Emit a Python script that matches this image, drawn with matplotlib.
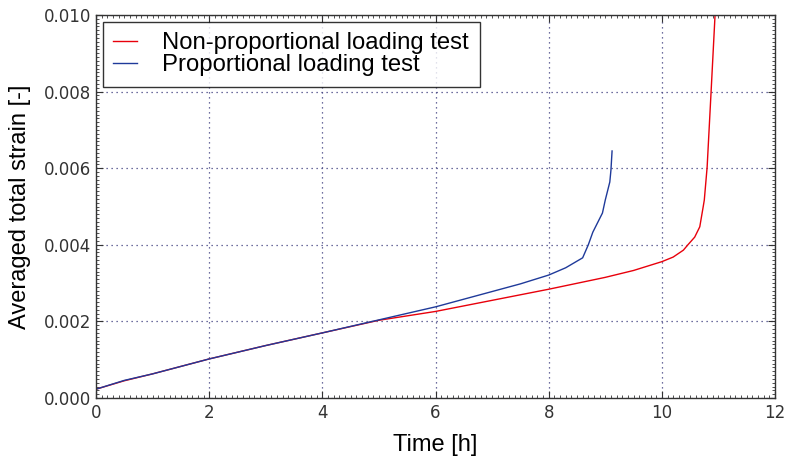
import matplotlib
matplotlib.use("Agg")
import matplotlib.pyplot as plt
from matplotlib.ticker import MultipleLocator, FormatStrFormatter

# Non-proportional loading test (red)
t_np = [0.0, 0.5, 1.0, 2.0, 3.0, 4.0, 5.0, 6.0, 7.0, 8.0, 9.0, 9.5, 10.0, 10.2, 10.38, 10.46, 10.58, 10.67, 10.73, 10.75, 10.80, 10.87, 10.94, 10.97]
e_np = [0.00023, 0.00045, 0.00063, 0.00102, 0.00137, 0.00170, 0.00203, 0.00226, 0.00255, 0.00284, 0.00315, 0.00333, 0.00356, 0.00368, 0.00386, 0.00400, 0.00420, 0.00447, 0.00499, 0.00517, 0.00603, 0.00800, 0.01000, 0.01100]

# Proportional loading test (blue)
t_p = [0.0, 0.5, 1.0, 2.0, 3.0, 4.0, 5.0, 6.0, 7.0, 7.5, 8.0, 8.3, 8.6, 8.7, 8.78, 8.95, 9.0, 9.08, 9.10, 9.12]
e_p = [0.00023, 0.00046, 0.00063, 0.00102, 0.00137, 0.00170, 0.00204, 0.00238, 0.00278, 0.00298, 0.00321, 0.00340, 0.00366, 0.00400, 0.00433, 0.00483, 0.00517, 0.00564, 0.00595, 0.00645]

x_ticks = [0, 2, 4, 6, 8, 10, 12]
y_ticks = [0.000, 0.002, 0.004, 0.006, 0.008, 0.010]

fig = plt.figure(figsize=(7.89, 4.59), dpi=100)
ax = fig.add_axes([0.1217, 0.1329, 0.8606, 0.8344])

ax.plot(t_np, e_np, color="#e8000b", lw=1.0, label="Non-proportional loading test")
ax.plot(t_p, e_p, color="#1f3a9a", lw=1.0, label="Proportional loading test")

ax.set_xlim(0, 12)
ax.set_ylim(0, 0.010)
ax.set_xticks(x_ticks)
ax.set_yticks(y_ticks)
ax.yaxis.set_major_formatter(FormatStrFormatter("%.3f"))
ax.xaxis.set_minor_locator(MultipleLocator(0.1))
ax.yaxis.set_minor_locator(MultipleLocator(0.0001))

ax.tick_params(which="both", direction="in", top=True, right=True, colors="#333333",
               labelsize=12)
ax.tick_params(which="major", length=5, width=0.8)
ax.tick_params(which="minor", length=2.5, width=0.6)
ax.tick_params(axis="x", pad=4)
for lab in ax.get_xticklabels() + ax.get_yticklabels():
    lab.set_color("#333333")
for s in ax.spines.values():
    s.set_color("#333333")
    s.set_linewidth(1.0)

ax.grid(True, which="major", color="#404080", linestyle=(0, (1, 3)), linewidth=0.9)

ax.set_xlabel("Time [h]", fontsize=17, family="Liberation Sans", labelpad=9)
ax.set_ylabel("Averaged total strain [-]", fontsize=17, family="Liberation Sans", labelpad=9)

leg = ax.legend(loc="upper left", prop={"family": "Liberation Sans", "size": 17.2},
                fancybox=False, handlelength=1.0, borderpad=0.45, labelspacing=0.0,
                handletextpad=1.05, borderaxespad=0.28)
leg.get_frame().set_edgecolor("black")
leg.get_frame().set_linewidth(1.0)

fig.savefig("out.png", dpi=100)
